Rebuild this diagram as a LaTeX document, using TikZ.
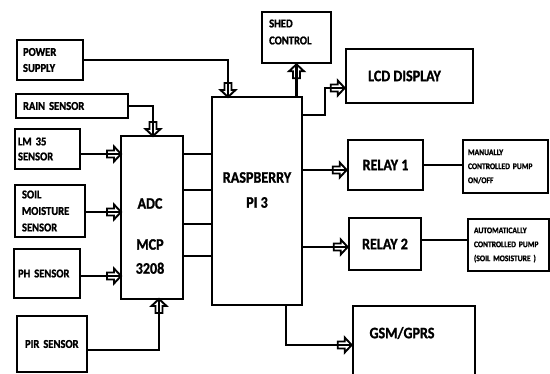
\documentclass[tikz,border=0pt]{standalone}
\usepackage{fontspec}
\setmainfont{Carlito}[FakeStretch=0.88, BoldFeatures={FakeBold=1.2}]
\begin{document}
\begin{tikzpicture}[x=1pt,y=-1pt,
  box/.style={draw, line width=2.6pt, inner sep=0pt, font=\bfseries},
  lbox/.style={box, align=left},
  conn/.style={line width=2.2pt},
  sfont/.style={font=\bfseries\fontsize{12}{16}\selectfont},
  bfont/.style={font=\bfseries\fontsize{16}{24}\selectfont},
  tfont/.style={font=\bfseries\fontsize{8.6}{14}\selectfont},
  harrow/.pic={\draw[line width=1.9pt, line join=miter] (0,0) -- (-7pt,7.5pt) -- (-7pt,3.5pt) -- (-14pt,3.5pt) -- (-14pt,-3.5pt) -- (-7pt,-3.5pt) -- (-7pt,-7.5pt) -- cycle;}]
\clip (0,0) rectangle (550,374);
\fill[white] (0,0) rectangle (550,374);

% left boxes
\node[lbox, sfont, minimum width=66pt, minimum height=40pt, text width=54pt, inner xsep=6pt] (ps) at (50,60) {POWER\\SUPPLY};
\node[lbox, sfont, minimum width=112pt, minimum height=24pt, text width=98pt, inner xsep=7pt] (rain) at (72,106) {RAIN SENSOR};
\node[lbox, sfont, font=\bfseries\fontsize{12}{15}\selectfont, minimum width=65pt, minimum height=40pt, text width=59pt, inner xsep=3pt] (lm) at (47.5,149) {LM 35\\SENSOR};
\node[lbox, sfont, font=\bfseries\fontsize{12}{16.5}\selectfont, minimum width=70pt, minimum height=52pt, text width=56pt, inner xsep=7pt] (soil) at (50,211) {SOIL\\MOISTURE\\SENSOR};
\node[lbox, sfont, minimum width=66pt, minimum height=49pt, text width=58pt, inner xsep=4pt] (ph) at (47,273.5) {PH SENSOR};
\node[lbox, sfont, minimum width=70pt, minimum height=56pt, text width=54pt, inner xsep=8pt] (pir) at (52,344) {PIR SENSOR};

% ADC and Raspberry
\node[box, minimum width=62pt, minimum height=163pt] (adc) at (152,217.5) {};
\node[bfont, align=center] (adct) at (150,236) {ADC\\[17pt]MCP\\3208};
\node[box, minimum width=90pt, minimum height=208pt] (rpi) at (257,201) {};
\node[bfont, font=\bfseries\fontsize{16}{25}\selectfont, align=center] (rpit) at (257,190) {RASPBERRY\\PI 3};

% right boxes
\node[box, minimum width=69pt, minimum height=51pt] (shed) at (296.5,37.5) {};
\node[sfont, font=\bfseries\fontsize{12}{17}\selectfont, align=left, anchor=west, inner sep=0pt] (shedt) at (269,32) {SHED\\CONTROL};
\node[box, bfont, minimum width=127pt, minimum height=54pt] (lcd) at (409.5,76) {\hspace*{-10pt}LCD DISPLAY};
\node[box, bfont, minimum width=75pt, minimum height=50pt] (r1) at (385.5,165) {RELAY 1};
\node[lbox, tfont, minimum width=85pt, minimum height=53pt, text width=75pt, inner xsep=5pt] (man) at (505.5,166.5) {MANUALLY\\CONTROLLED PUMP\\ON/OFF};
\node[box, bfont, minimum width=72pt, minimum height=52pt] (r2) at (385,244) {RELAY 2};
\node[lbox, tfont, minimum width=81pt, minimum height=52pt, text width=69pt, inner xsep=6pt] (auto) at (508.5,245) {AUTOMATICALLY\\CONTROLLED PUMP\\(SOIL MOSISTURE )};
\node[box, minimum width=122pt, minimum height=94pt] (gsm) at (414,353) {};
\node[bfont, inner sep=0pt] (gsmt) at (402,333) {GSM/GPRS};

% connectors into Raspberry / ADC
\coordinate (psA) at (228,97);
\draw[conn] (ps.east) -| (psA);
\pic[rotate=-90] at (psA) {harrow};
\coordinate (rnA) at (153,136);
\draw[conn] (rain.east) -| (rnA);
\pic[rotate=-90] at (rnA) {harrow};
\coordinate (lmA) at (121,154);
\draw[conn] (lm.east |- lmA) -- (lmA);
\pic at (lmA) {harrow};
\coordinate (soA) at (121,212);
\draw[conn] (soil.east |- soA) -- (soA);
\pic at (soA) {harrow};
\coordinate (phA) at (121,276);
\draw[conn] (ph.east |- phA) -- (phA);
\pic at (phA) {harrow};
\coordinate (pirL) at (87,350);
\coordinate (pirA) at (159,299);
\draw[conn] (pirL) -| (pirA);
\pic[rotate=90] at (pirA) {harrow};

\foreach \yy in {154,190,224,256}
  \draw[conn] (adc.east |- 0,\yy) -- (rpi.west |- 0,\yy);

% outputs
\coordinate (shA) at (shed.south);
\draw[conn] (rpi.north -| shA) -- (shA);
\pic[rotate=90] at (shA) {harrow};
\coordinate (lcdA) at (lcd.west |- 0,88);
\draw[conn] (rpi.east |- 0,115) -| (325,88) -- (lcdA);
\pic at (lcdA) {harrow};
\coordinate (r1A) at (r1.west |- 0,170);
\draw[conn] (rpi.east |- r1A) -- (r1A);
\pic at (r1A) {harrow};
\draw[conn] (r1.east) -- (man.west |- r1.east);
\coordinate (r2A) at (r2.west |- 0,247);
\draw[conn] (rpi.east |- r2A) -- (r2A);
\pic at (r2A) {harrow};
\draw[conn] (r2.east |- 0,240) -- (auto.west |- 0,240);
\coordinate (gsA) at (gsm.west |- 0,345);
\draw[conn] (rpi.south -| 286,0) |- (gsA);
\pic at (gsA) {harrow};
\end{tikzpicture}
\end{document}
